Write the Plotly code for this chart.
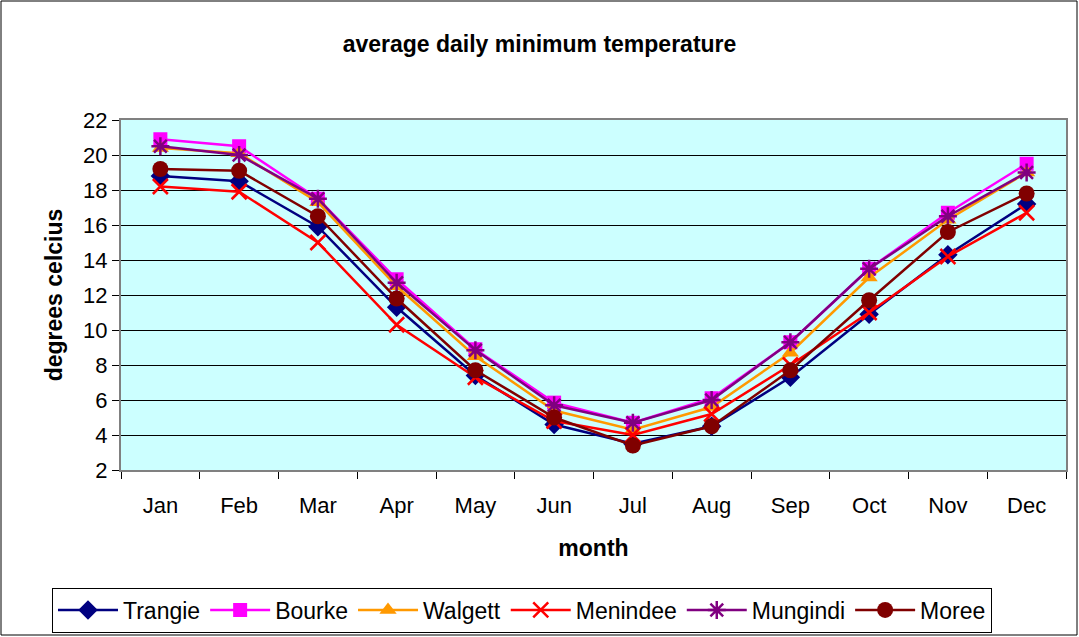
import plotly.graph_objects as go

months = ["Jan", "Feb", "Mar", "Apr", "May", "Jun", "Jul", "Aug", "Sep", "Oct", "Nov", "Dec"]
trangie = [18.8, 18.5, 15.9, 11.3, 7.4, 4.6, 3.5, 4.5, 7.3, 10.9, 14.3, 17.2]
bourke = [20.9, 20.5, 17.5, 12.9, 8.9, 5.85, 4.7, 6.1, 9.3, 13.5, 16.7, 19.5]
walgett = [20.4, 20.1, 17.3, 12.5, 8.5, 5.4, 4.3, 5.6, 8.7, 13.0, 16.3, 19.0]
menindee = [18.2, 17.9, 15.0, 10.3, 7.3, 4.8, 4.0, 5.2, 8.0, 11.0, 14.2, 16.7]
mungindi = [20.5, 20.0, 17.5, 12.7, 8.85, 5.7, 4.7, 6.0, 9.3, 13.5, 16.5, 19.0]
moree = [19.2, 19.1, 16.5, 11.8, 7.7, 5.0, 3.4, 4.5, 7.7, 11.7, 15.6, 17.8]

series = [
    ("Trangie", trangie, "#000080", "diamond", 15),
    ("Bourke", bourke, "#FF00FF", "square", 14),
    ("Walgett", walgett, "#FF9900", "triangle-up", 15),
    ("Menindee", menindee, "#FF0000", "x-thin-open", 15),
    ("Mungindi", mungindi, "#800080", "asterisk-open", 15),
    ("Moree", moree, "#800000", "circle", 16),
]

fig = go.Figure()
for name, vals, color, sym, size in series:
    marker = dict(symbol=sym, size=size, color=color)
    if sym.endswith("-open"):
        marker["line"] = dict(color=color, width=2.5)
    else:
        marker["line"] = dict(width=0)
    fig.add_trace(go.Scatter(
        x=months, y=vals, name=name, mode="lines+markers",
        line=dict(color=color, width=2.5), marker=marker,
    ))

font_family = "Liberation Sans, Arial, sans-serif"
l, r, t, b = 121, 13, 120, 167
W, H = 1079, 637
pw, ph = W - l - r, H - t - b

fig.update_layout(
    width=W, height=H,
    margin=dict(l=l, r=r, t=t, b=b, autoexpand=False),
    paper_bgcolor="white",
    plot_bgcolor="#CCFFFF",
    font=dict(family=font_family, size=22, color="black"),
    title=dict(text="<b>average daily minimum temperature</b>", x=0.5, xanchor="center",
               y=1 - 44 / H, yanchor="middle", font=dict(size=23)),
    showlegend=True,
    legend=dict(orientation="h", xref="container", yref="container",
                x=52 / W, xanchor="left", y=1 - 610 / H, yanchor="middle",
                bordercolor="black", borderwidth=1, font=dict(size=23),
                itemwidth=60, tracegroupgap=0),
    xaxis=dict(type="category", range=[-0.5, 11.5], tickson="boundaries", ticks="outside",
               ticklen=7, tickcolor="black", showgrid=False, showline=True, mirror=True,
               linecolor="#808080", linewidth=2, ticklabelstandoff=15,
               title=dict(text="<b>month</b>", standoff=22, font=dict(size=23))),
    yaxis=dict(range=[2, 22], dtick=2, ticks="outside", ticklen=7, tickcolor="black",
               showgrid=True, gridcolor="black", gridwidth=1, showline=True, mirror=True,
               linecolor="#808080", linewidth=2, zeroline=False,
               title=dict(text="<b>degrees celcius</b>", standoff=14, font=dict(size=23))),
    shapes=[dict(type="rect", xref="paper", yref="paper",
                 x0=(1 - l) / pw, x1=(W - 2 - l) / pw,
                 y0=(t + ph - (H - 2)) / ph, y1=(t + ph - 1) / ph,
                 line=dict(color="black", width=1), fillcolor="rgba(0,0,0,0)", layer="below")],
)

fig.write_html("out.html", config={"displayModeBar": False},
               post_script="document.body.style.margin='0';")
